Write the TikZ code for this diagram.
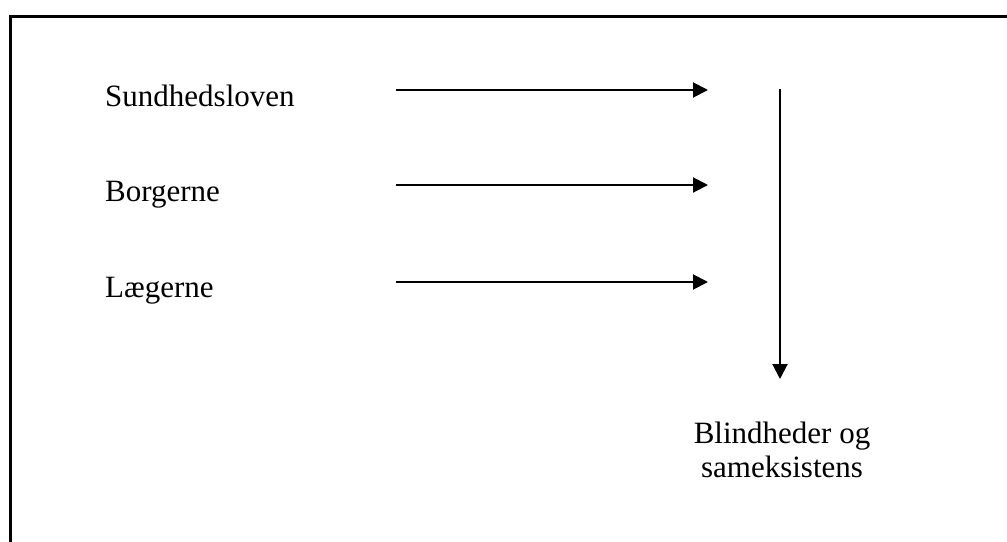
\documentclass[tikz,border=0pt]{standalone}
\usepackage{fontspec}
\setmainfont{Liberation Serif}
\usetikzlibrary{arrows.meta}

\tikzset{
  label/.style={font=\fontsize{31}{34}\selectfont, inner sep=0pt},
  pil/.style={line width=2pt, -{Triangle[length=15pt,width=15pt]}}
}

\begin{document}
\begin{tikzpicture}[x=1pt,y=-1pt]
        \clip (0,0) rectangle (1007,541); % fast billedramme
        \draw[line width=3pt] (10.5,16.5) rectangle (1040,580); % rammen, kun top og venstre side ses

        \node[label, anchor=base west] (sund) at (105,106) {Sundhedsloven};
        \node[label, anchor=base west] (borg) at (105,201) {Borgerne};
        \node[label, anchor=base west] (laeg) at (105,297) {Lægerne};
        \node[label, anchor=base, align=center] (blind) at (782,477) {Blindheder og\\sameksistens};

        \coordinate (a1) at (396,90);  \coordinate (b1) at (708,90);
        \coordinate (a2) at (396,185); \coordinate (b2) at (708,185);
        \coordinate (a3) at (396,282); \coordinate (b3) at (708,282);
        \coordinate (top) at (780,89); \coordinate (bund) at (780,379);

        \draw[pil] (a1) -- (b1); % pil fra Sundhedsloven
        \draw[pil] (a2) -- (b2); % pil fra Borgerne
        \draw[pil] (a3) -- (b3); % pil fra Lægerne
        \draw[pil] (top) -- (bund); % lodret pil ned mod blind
    \end{tikzpicture}
\end{document}
